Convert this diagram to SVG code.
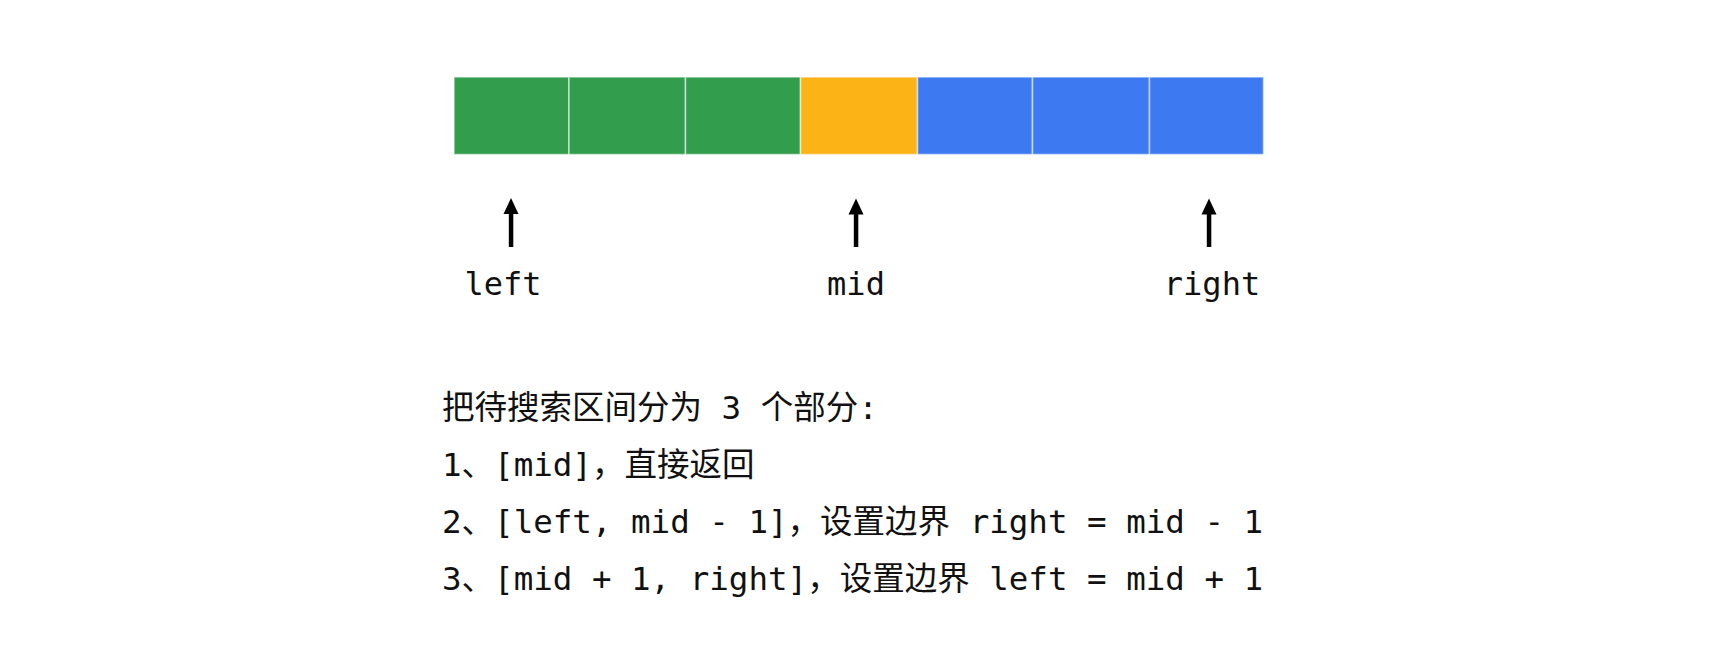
<svg xmlns="http://www.w3.org/2000/svg" width="1718" height="647" viewBox="0 0 1718 647">
<style>
.cell{stroke:#ffffff;stroke-opacity:0.55;stroke-width:1.6}
.g{fill:#319D4D}
.y{fill:#FBB315}
.b{fill:#3D7AF2}
.lbl{font-family:"DejaVu Sans Mono","Liberation Mono",monospace;font-size:32px;fill:#111;text-anchor:middle}
.txt{font-family:"DejaVu Sans Mono","Noto Sans CJK SC",monospace;font-size:32.5px;fill:#111}
.arr{fill:#000}
</style>
<rect width="1718" height="647" fill="#ffffff"/>
<g id="cells">
<rect id="cell0" class="cell g" x="454" y="77" width="115" height="77.5"/>
<rect id="cell1" class="cell g" x="569" y="77" width="116.5" height="77.5"/>
<rect id="cell2" class="cell g" x="685.5" y="77" width="115" height="77.5"/>
<rect id="cell3" class="cell y" x="800.5" y="77" width="117" height="77.5"/>
<rect id="cell4" class="cell b" x="917.5" y="77" width="115" height="77.5"/>
<rect id="cell5" class="cell b" x="1032.5" y="77" width="117" height="77.5"/>
<rect id="cell6" class="cell b" x="1149.5" y="77" width="114" height="77.5"/>
</g>
<g id="connectors">
<g id="arrow-left"><rect class="arr" x="508.8" y="212" width="4.5" height="35"/><polygon class="arr" points="511,198 503.5,214 518.5,214"/></g>
<g id="arrow-mid"><rect class="arr" x="853.8" y="212" width="4.5" height="35"/><polygon class="arr" points="856,198.5 848.5,214.5 863.5,214.5"/></g>
<g id="arrow-right"><rect class="arr" x="1206.8" y="212" width="4.5" height="35"/><polygon class="arr" points="1209,198.5 1201.5,214.5 1216.5,214.5"/></g>
</g>
<g id="labels">
<text id="lbl-left" class="lbl" x="503" y="295">left</text>
<text id="lbl-mid" class="lbl" x="856" y="295">mid</text>
<text id="lbl-right" class="lbl" x="1212" y="295">right</text>
</g>
<g id="notes">
<text class="txt" x="442" y="419">把待搜索区间分为 3 个部分:</text>
<text class="txt" x="442" y="476">1、[mid]，直接返回</text>
<text class="txt" x="442" y="533">2、[left, mid - 1]，设置边界 right = mid - 1</text>
<text class="txt" x="442" y="590">3、[mid + 1, right]，设置边界 left = mid + 1</text>
</g>
</svg>
